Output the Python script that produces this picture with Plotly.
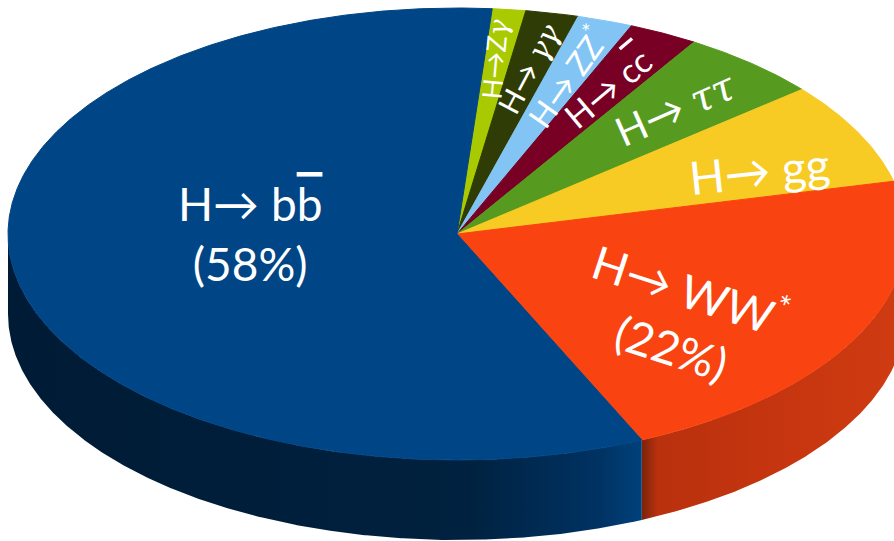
import numpy as np
import plotly.graph_objects as go

# Higgs boson decay channels, listed clockwise from 12 o'clock
channels = ["Zγ", "γγ", "ZZ*", "cc̄", "ττ", "gg", "WW*", "bb̄"]
shares = [1.2, 1.9, 2.0, 2.5, 5.1, 7.3, 22.0, 58.0]  # branching fraction, %

top_colors = ["#a9c900", "#303c06", "#82c5f5", "#780024",
              "#569b1f", "#f7cb24", "#f94411", "#004585"]
side_colors = ["#7f9700", "#1f2804", "#5f97bd", "#55001a",
               "#3f7516", "#c9a41a", "#c6360f", "#001d38"]
# horizontal shading of the visible rim
side_scales = {
    "WW*": [[0, "#7a230b"], [0.06, "#b9310d"], [0.5, "#c5350f"], [1, "#d03c12"]],
    "bb̄": [[0, "#001b35"], [0.72, "#00213f"], [0.93, "#003262"], [1, "#00417b"]],
}

# label styling per channel
label_r = [0.78, 0.75, 0.74, 0.73, 0.74, 0.73, 0.62, 0.46]
label_nudge = [-0.5, 0, 0, 0, 0, 4, 10, 10]       # degrees along the rim
label_rot = [-85, -62, -55, -40, -24, -6, 18, 0]
label_size = [27, 30, 32, 34, 40, 46, 46, 46]

bar = "<span style='text-decoration:overline'>{}</span>"
greek = "<span style='font-family:\"DejaVu Serif\"'><i>{}</i></span>"
label_text = [
    "H→Z" + greek.format("γ"),
    "H→ " + greek.format("γγ"),
    "H→ ZZ<sup>*</sup>",
    "H→ c" + bar.format("c"),
    "H→ " + greek.format("ττ"),
    "H→ gg",
    f"H→ WW<sup>*</sup><br>({shares[6]:.0f}%)",
    "H→ b" + bar.format("b") + f"<br>({shares[7]:.0f}%)",
]

# pie geometry (drawing units = pixels of the canvas)
W, H = 894, 541
CX, CY = 457, 234
RX, RY = 449, 226
DEPTH = 80
START = 4.5  # degrees clockwise from 12 o'clock


def rim(theta, r=1.0, dz=0.0):
    t = np.radians(theta)
    return CX + r * RX * np.sin(t), CY - r * RY * np.cos(t) + dz


total = sum(shares)
edges = START + 360 * np.concatenate([[0], np.cumsum(shares)]) / total

fig = go.Figure()

# rim (side wall), only the front half is visible
for i, name in enumerate(channels):
    a, b = edges[i], edges[i + 1]
    lo, hi = max(a, 90), min(b, 270)
    if lo >= hi:
        continue
    th = np.linspace(lo, hi, int((hi - lo) * 4) + 2)
    xt, yt = rim(th)
    xb, yb = rim(th[::-1], dz=DEPTH)
    xs = np.concatenate([xt, xb, xt[:1]])
    ys = np.concatenate([yt, yb, yt[:1]])
    kw = dict(fillcolor=side_colors[i])
    if name in side_scales:
        kw = dict(fillgradient=dict(type="horizontal",
                                    colorscale=side_scales[name],
                                    start=float(xs.min()), stop=float(xs.max())))
    fig.add_trace(go.Scatter(x=xs, y=ys, mode="lines", fill="toself",
                             line=dict(width=0), hoverinfo="skip",
                             showlegend=False, **kw))

# top faces
for i, name in enumerate(channels):
    a, b = edges[i], edges[i + 1]
    th = np.linspace(a, b, int((b - a) * 4) + 2)
    xa, ya = rim(th)
    xs = np.concatenate([[CX], xa, [CX]])
    ys = np.concatenate([[CY], ya, [CY]])
    fig.add_trace(go.Scatter(x=xs, y=ys, mode="lines", fill="toself",
                             fillcolor=top_colors[i],
                             line=dict(width=1, color=top_colors[i]),
                             hoverinfo="skip", showlegend=False, name=name))

# slice labels
for i, name in enumerate(channels):
    mid = 0.5 * (edges[i] + edges[i + 1]) + label_nudge[i]
    lx, ly = rim(mid, r=label_r[i])
    fig.add_annotation(x=float(lx), y=float(ly), xref="x", yref="y",
                       text=label_text[i], showarrow=False,
                       textangle=label_rot[i], align="center",
                       font=dict(family="Lato, 'DejaVu Sans', sans-serif",
                                 size=label_size[i], color="white"))

fig.update_layout(
    width=W, height=H,
    margin=dict(l=0, r=0, t=0, b=0),
    paper_bgcolor="white", plot_bgcolor="white",
    xaxis=dict(range=[0, W], visible=False, fixedrange=True),
    yaxis=dict(range=[H, 0], visible=False, fixedrange=True),
)

fig.write_html("out.html")
